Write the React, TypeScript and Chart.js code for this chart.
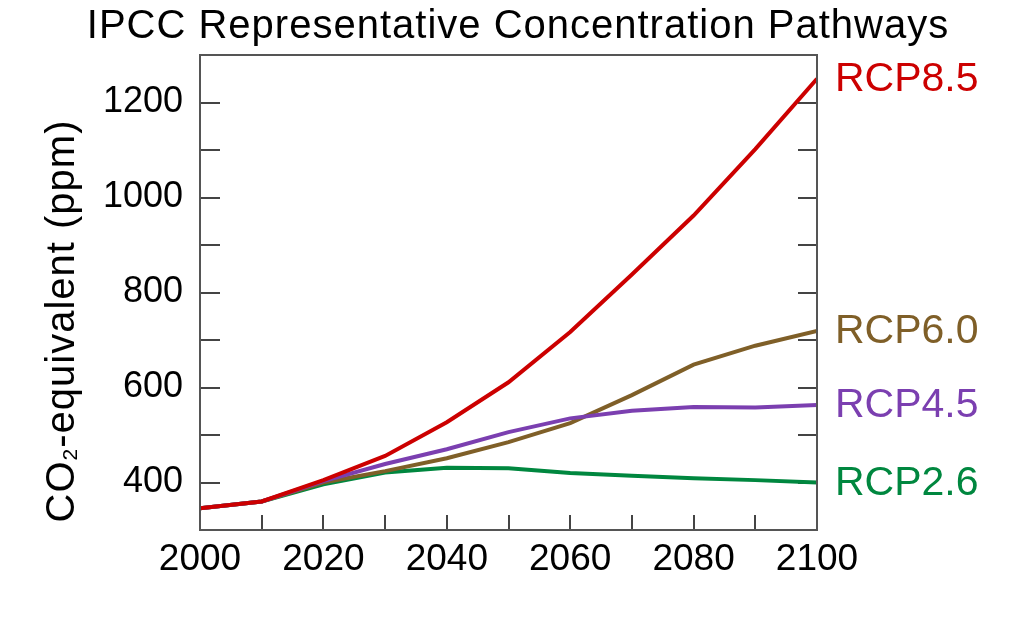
import React, { useEffect, useRef } from 'react';
import { Chart, registerables } from 'chart.js';

Chart.register(...registerables);

const titleText = 'IPCC Representative Concentration Pathways';
const yTitleParts = ['CO', '2', '-equivalent (ppm)'];

const years = [2000, 2010, 2020, 2030, 2040, 2050, 2060, 2070, 2080, 2090, 2100];
const rcp85 = [346, 360, 405, 456, 527, 611, 717, 838, 962, 1102, 1250];
const rcp60 = [346, 360, 400, 424, 451, 485, 525, 584, 648, 688, 719];
const rcp45 = [346, 360, 403, 439, 470, 506, 535, 551, 559, 558, 563];
const rcp26 = [346, 360, 396, 421, 431, 430, 420, 414, 409, 405, 400];

const seriesNames = ['RCP8.5', 'RCP4.5', 'RCP6.0', 'RCP2.6'];
const seriesValues = [rcp85, rcp45, rcp60, rcp26];
const seriesColors = ['#cc0000', '#7b3fb0', '#7f5f28', '#00873f'];

const yMin = 300;
const yMax = 1300;
const yStep = 100;
const yLabelStep = 200;
const xMin = 2000;
const xMax = 2100;
const xStep = 10;
const xLabelStep = 20;

const FONT = '"Liberation Sans", Arial, sans-serif';

const decorPlugin = {
  id: 'decor',
  beforeDatasetsDraw(chart: any) {
    const { ctx, chartArea: a, scales } = chart;
    const xs = scales.x;
    const ys = scales.y;
    ctx.save();
    ctx.strokeStyle = '#444444';
    ctx.lineWidth = 2;
    ctx.beginPath();
    ys.ticks.forEach((t: any) => {
      if (t.value <= ys.min || t.value >= ys.max) return;
      const py = Math.round(ys.getPixelForValue(t.value));
      ctx.moveTo(a.left, py);
      ctx.lineTo(a.left + 20, py);
      ctx.moveTo(a.right, py);
      ctx.lineTo(a.right - 19, py);
    });
    xs.ticks.forEach((t: any) => {
      if (t.value <= xs.min || t.value >= xs.max) return;
      const px = Math.round(xs.getPixelForValue(t.value));
      ctx.moveTo(px, a.bottom);
      ctx.lineTo(px, a.bottom - 15);
    });
    ctx.stroke();
    ctx.restore();
  },
  afterDraw(chart: any) {
    const { ctx, chartArea: a, scales } = chart;
    const ys = scales.y;
    ctx.save();
    // frame
    ctx.strokeStyle = '#555555';
    ctx.lineWidth = 2;
    ctx.strokeRect(a.left, a.top, a.right - a.left, a.bottom - a.top);

    // title
    ctx.fillStyle = '#000000';
    ctx.font = `40px ${FONT}`;
    (ctx as any).letterSpacing = '1px';
    ctx.textAlign = 'center';
    ctx.textBaseline = 'alphabetic';
    ctx.fillText(titleText, 518, 38);

    // y-axis title with subscript
    const big = `40px ${FONT}`;
    const small = `21px ${FONT}`;
    ctx.font = big;
    const w0 = ctx.measureText(yTitleParts[0]).width;
    const w2 = ctx.measureText(yTitleParts[2]).width;
    ctx.font = small;
    const w1 = ctx.measureText(yTitleParts[1]).width;
    const total = w0 + w1 + w2;
    ctx.translate(74, 321);
    ctx.rotate(-Math.PI / 2);
    ctx.textAlign = 'left';
    ctx.textBaseline = 'alphabetic';
    let cx = -total / 2;
    ctx.font = big;
    ctx.fillText(yTitleParts[0], cx, 0);
    cx += w0;
    ctx.font = small;
    ctx.fillText(yTitleParts[1], cx, 3);
    cx += w1;
    ctx.font = big;
    ctx.fillText(yTitleParts[2], cx, 0);
    ctx.setTransform(1, 0, 0, 1, 0, 0);
    ctx.restore();

    // series labels at the line ends
    ctx.save();
    ctx.font = `41px ${FONT}`;
    ctx.textAlign = 'left';
    ctx.textBaseline = 'middle';
    chart.data.datasets.forEach((ds: any) => {
      const last = ds.data[ds.data.length - 1];
      const py = ys.getPixelForValue(last.y);
      ctx.fillStyle = ds.borderColor;
      ctx.fillText(ds.label, a.right + 18, py + 1);
    });
    ctx.restore();
  },
};

export default function App() {
  const ref = useRef<HTMLCanvasElement | null>(null);

  useEffect(() => {
    if (!ref.current) return;
    const datasets = seriesNames.map((name, i) => ({
      label: name,
      data: years.map((yr, j) => ({ x: yr, y: seriesValues[i][j] })),
      borderColor: seriesColors[i],
      backgroundColor: seriesColors[i],
      borderWidth: 4,
      pointRadius: 0,
      tension: 0,
      fill: false,
    }));
    const chart = new Chart(ref.current, {
      type: 'line',
      data: { datasets },
      options: {
        animation: false,
        responsive: true,
        maintainAspectRatio: false,
        layout: { padding: { top: 55, right: 205, left: 0, bottom: 0 } },
        plugins: {
          legend: { display: false },
          title: { display: false },
          tooltip: { enabled: false },
        },
        scales: {
          x: {
            type: 'linear',
            min: xMin,
            max: xMax,
            afterFit: (s: any) => {
              s.height = 91;
            },
            grid: { display: false, drawTicks: false },
            border: { display: false },
            ticks: {
              stepSize: xStep,
              autoSkip: false,
              maxRotation: 0,
              padding: 8,
              color: '#000000',
              font: { family: FONT, size: 37 },
              callback: (v: any) => (Number(v) % xLabelStep === 0 ? String(v) : ''),
            },
          },
          y: {
            type: 'linear',
            min: yMin,
            max: yMax,
            afterFit: (s: any) => {
              s.width = 200;
            },
            grid: { display: false, drawTicks: false },
            border: { display: false },
            ticks: {
              stepSize: yStep,
              autoSkip: false,
              padding: 17,
              color: '#000000',
              font: { family: FONT, size: 36 },
              callback: (v: any) => {
                const n = Number(v);
                return n % yLabelStep === 0 && n > yMin && n < yMax ? String(n) : '';
              },
            },
          },
        },
      },
      plugins: [decorPlugin],
    });
    return () => chart.destroy();
  }, []);

  return (
    <div style={{ position: 'fixed', left: 0, top: 0, width: 1022, height: 621, background: '#ffffff' }}>
      <canvas ref={ref} />
    </div>
  );
}
